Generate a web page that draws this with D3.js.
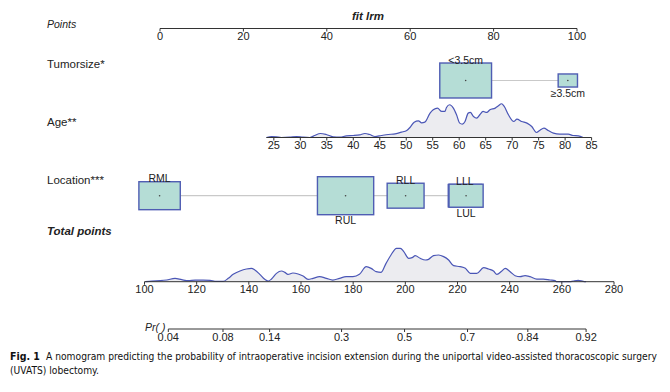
<!DOCTYPE html>
<html><head><meta charset="utf-8">
<script src="https://cdn.jsdelivr.net/npm/d3@7"></script>
<style>body{margin:0;background:#fff} svg{display:block}</style>
</head><body><svg id="c" width="670" height="392"></svg>
<script>
// ---------- data ----------
const pointsTicks = [0, 20, 40, 60, 80, 100];
const tumorCats = ["<3.5cm", "≥3.5cm"];
const tumorPoints = [73.3, 97.8];
const tumorFreq = [122, 17];
const tumorLabelSide = ["above", "below"];

const ageTicks = [25, 30, 35, 40, 45, 50, 55, 60, 65, 70, 75, 80, 85];
const ageDomain = [25, 85];
const agePointsRange = [27.3, 103.5];
const ageGrid = [23.6,24.6,25.5,26.4,28,29.3,30.5,31.8,32.7,33.8,34.9,36.2,37.5,38.7,40,41.2,42.2,43.1,44.1,45.3,46.6,47.9,49.1,50.1,50.7,51.5,52.3,52.9,53.5,54.5,55.1,55.9,56.7,57.3,57.6,58.2,58.9,59.5,60.1,60.6,61.1,61.7,62.1,62.7,63.3,63.9,64.5,65.2,65.8,66.8,67.4,68.0,68.5,69.3,70.3,70.9,71.8,72.8,73.7,74.6,75.2,76,76.8,77.8,79,80.6,81.5,82.5,83.4];
const ageDensity = [0,3,2,0,1,3,1,0,6,12,9,2,1,5,6,8,12,9,3,6,9,11,16,21,30,46,50,44,46,73,83,88,78,78,90,98,88,68,43,40,48,73,75,63,58,68,78,75,83,88,95,101,93,68,48,55,48,43,33,15,21,28,21,13,10,10,6,5,0];

const locCats = ["RML", "RUL", "RLL", "LLL", "LUL"];
const locPoints = [-0.1, 44.5, 58.9, 73.1, 73.4];
const locFreq = [78, 144, 62, 50, 53];
const locLabelSide = ["above", "below", "above", "above", "below"];

const totalTicks = [100, 120, 140, 160, 180, 200, 220, 240, 260, 280];
const totalGrid = [100.3,102.8,106,108.5,111.7,114.3,116.8,119.4,122.5,125.1,127.6,130.2,132.1,134,136.6,139.1,141,142.3,144.2,146.1,147.4,148.7,150.6,152.5,153.8,155,156.9,158.9,160.8,162.7,164.6,167.1,169.7,172.2,174.8,177.3,179.9,182.4,185,186.9,188.8,190.7,192.6,194.5,196.6,198.1,199.4,201.3,202.6,203.8,205.7,207.7,208.9,210.8,212.8,214.7,216.6,218.5,221,223,224.9,227.4,230,231.9,233.8,235.1,237,238.3,240.2,242.1,244,245.9,247.8,250.4,252.9,255.5,257.4,258,263,264.4,266.3,268.2,269.3];
const totalDensity = [0,2,3,5,10,6,3,5,5,4,1,1,10,22,32,38,40,35,22,7,2,8,25,32,28,22,26,23,17,7,10,15,10,5,10,15,15,22,45,40,30,28,55,80,100,100,90,70,72,78,70,65,67,78,80,75,65,48,45,40,25,25,42,38,32,22,32,40,30,18,15,18,15,8,8,5,3,0,0,2,4,1,0];

const prTicks = [0.04, 0.08, 0.14, 0.3, 0.5, 0.7, 0.84, 0.92];
const prCenterPoints = 199.7;   // total points where Pr = 0.5
const prPointsPerLogit = 28.5;

const captionLines = [
  ["Fig. 1", "A nomogram predicting the probability of intraoperative incision extension during the uniportal video-assisted thoracoscopic surgery"],
  ["", "(UVATS) lobectomy."]
];

// ---------- drawing ----------
const svg = d3.select("#c");
const FONT = "Liberation Sans, Arial, Helvetica, sans-serif";
const CAPFONT = "Liberation Sans Narrow, DejaVu Sans Condensed, Liberation Sans, sans-serif";
const INK = "#222";
const BOX_FILL = "#b5ddd6", BOX_STROKE = "#4f5db3", DENS_STROKE = "#4a56b6", DENS_FILL = "#ececf0";

const xPts = d3.scaleLinear().domain([0, 100]).range([160, 577]);
const xTot = d3.scaleLinear().domain([100, 280]).range([144.5, 614]);
const agePts = d3.scaleLinear().domain(ageDomain).range(agePointsRange);
const xAge = a => xPts(agePts(a));
const prToTot = d3.scaleLinear().domain([0, 1]).range([prCenterPoints, prCenterPoints + prPointsPerLogit]);
const logit = p => Math.log(p / (1 - p));
const xPr = p => xTot(prToTot(logit(p)));
const dens = d3.scaleLinear().domain([0, 100]).range([0, 33.4]);
const boxH = d3.scaleSqrt().domain([0, 144]).range([0, 38]);

function axis(y, ticks, xf, x0, x1, fmt) {
  const g = svg.append("g");
  g.append("line").attr("x1", x0).attr("x2", x1).attr("y1", y).attr("y2", y)
    .attr("stroke", "#333").attr("stroke-width", 1);
  g.selectAll("line.t").data(ticks).join("line").attr("class", "t")
    .attr("x1", d => xf(d)).attr("x2", d => xf(d)).attr("y1", y).attr("y2", y + 3)
    .attr("stroke", "#333").attr("stroke-width", 1);
  g.selectAll("text").data(ticks).join("text")
    .attr("x", d => xf(d)).attr("y", y + 11.5).attr("text-anchor", "middle")
    .attr("font-family", FONT).attr("font-size", 11).attr("fill", INK)
    .text(fmt || (d => d));
}

function label(x, y, txt, opts = {}) {
  svg.append("text").attr("x", x).attr("y", y).attr("font-family", FONT)
    .attr("font-size", opts.size || 11.5).attr("fill", INK)
    .attr("font-style", opts.italic ? "italic" : null)
    .attr("font-weight", opts.bold ? "bold" : null)
    .attr("text-anchor", opts.anchor || "start")
    .text(txt);
}

// title + points
label(368, 20, "fit lrm", {italic: true, bold: true, anchor: "middle", size: 11.5});
label(47, 28, "Points", {italic: true, size: 10.5});
axis(28.5, pointsTicks, xPts, xPts(0), xPts(100));

// categorical rows
function catRow(yc, cats, pts, freq, sides) {
  const xs = pts.map(p => xPts(p));
  const hs = freq.map(f => boxH(f));
  const ws = hs.map(h => h * 1.48);
  svg.append("line").attr("x1", d3.min(xs)).attr("x2", d3.max(xs)).attr("y1", yc).attr("y2", yc)
    .attr("stroke", "#c9c9c9").attr("stroke-width", 1.2);
  cats.forEach((c, i) => {
    svg.append("rect").attr("x", xs[i] - ws[i] / 2).attr("y", yc - hs[i] / 2)
      .attr("width", ws[i]).attr("height", hs[i])
      .attr("fill", BOX_FILL).attr("stroke", BOX_STROKE).attr("stroke-width", 1.4);
    svg.append("circle").attr("cx", xs[i]).attr("cy", yc).attr("r", 0.8).attr("fill", "#444");
  });
  cats.forEach((c, i) => {
    const y = sides[i] === "above" ? yc - hs[i] / 2 + 0.5 : yc + hs[i] / 2 + 9.5;
    svg.append("text").attr("x", xs[i]).attr("y", y).attr("text-anchor", "middle")
      .attr("font-family", FONT).attr("font-size", 10.5).attr("fill", INK).text(c);
  });
}

label(47, 68, "Tumorsize*");
catRow(80.5, tumorCats, tumorPoints, tumorFreq, tumorLabelSide);

// age row
label(47, 126, "Age**");
const ageY = 137.5;
const ageArea = d3.area().x(d => xAge(d[0])).y0(ageY).y1(d => ageY - dens(d[1])).curve(d3.curveMonotoneX);
const ageData = ageGrid.map((a, i) => [a, ageDensity[i]]);
svg.append("path").datum(ageData).attr("d", ageArea).attr("fill", DENS_FILL);
svg.append("path").datum(ageData).attr("d", ageArea.lineY1()).attr("fill", "none")
  .attr("stroke", DENS_STROKE).attr("stroke-width", 1.2);
axis(ageY, ageTicks, xAge, xAge(d3.min(ageGrid)), xAge(85));

// location row
label(47, 184, "Location***");
catRow(195.7, locCats, locPoints, locFreq, locLabelSide);

// total points
label(47, 235, "Total points", {italic: true, bold: true, size: 11.5});
const totY = 281.7;
const totArea = d3.area().x(d => xTot(d[0])).y0(totY).y1(d => totY - dens(d[1])).curve(d3.curveMonotoneX);
const totData = totalGrid.map((t, i) => [t, totalDensity[i]]);
svg.append("path").datum(totData).attr("d", totArea).attr("fill", DENS_FILL);
svg.append("path").datum(totData).attr("d", totArea.lineY1()).attr("fill", "none")
  .attr("stroke", DENS_STROKE).attr("stroke-width", 1.2);
axis(totY, totalTicks, xTot, xTot(100), xTot(280));

// probability
label(145, 331, "Pr( )", {italic: true, size: 10.5});
axis(329, prTicks, xPr, xPr(prTicks[0]), xPr(prTicks[prTicks.length - 1]), d => String(d));

// caption: size the font so the first line spans the page width like the reference
const capG = svg.append("g").attr("font-family", CAPFONT).attr("fill", "#111");
capG.append("text").attr("x", 10).attr("y", 360).attr("font-size", 10.5)
  .attr("font-weight", "bold").text(captionLines[0][0]);
const body1 = capG.append("text").attr("x", 46).attr("y", 360).attr("font-size", 10.5)
  .text(captionLines[0][1]);
const natural = body1.node().getComputedTextLength();
const fs = Math.min(11, 10.5 * 612 / natural);
body1.attr("font-size", fs);
capG.append("text").attr("x", 10).attr("y", 374).attr("font-size", fs)
  .text(captionLines[1][1]);
</script>
</body></html>
